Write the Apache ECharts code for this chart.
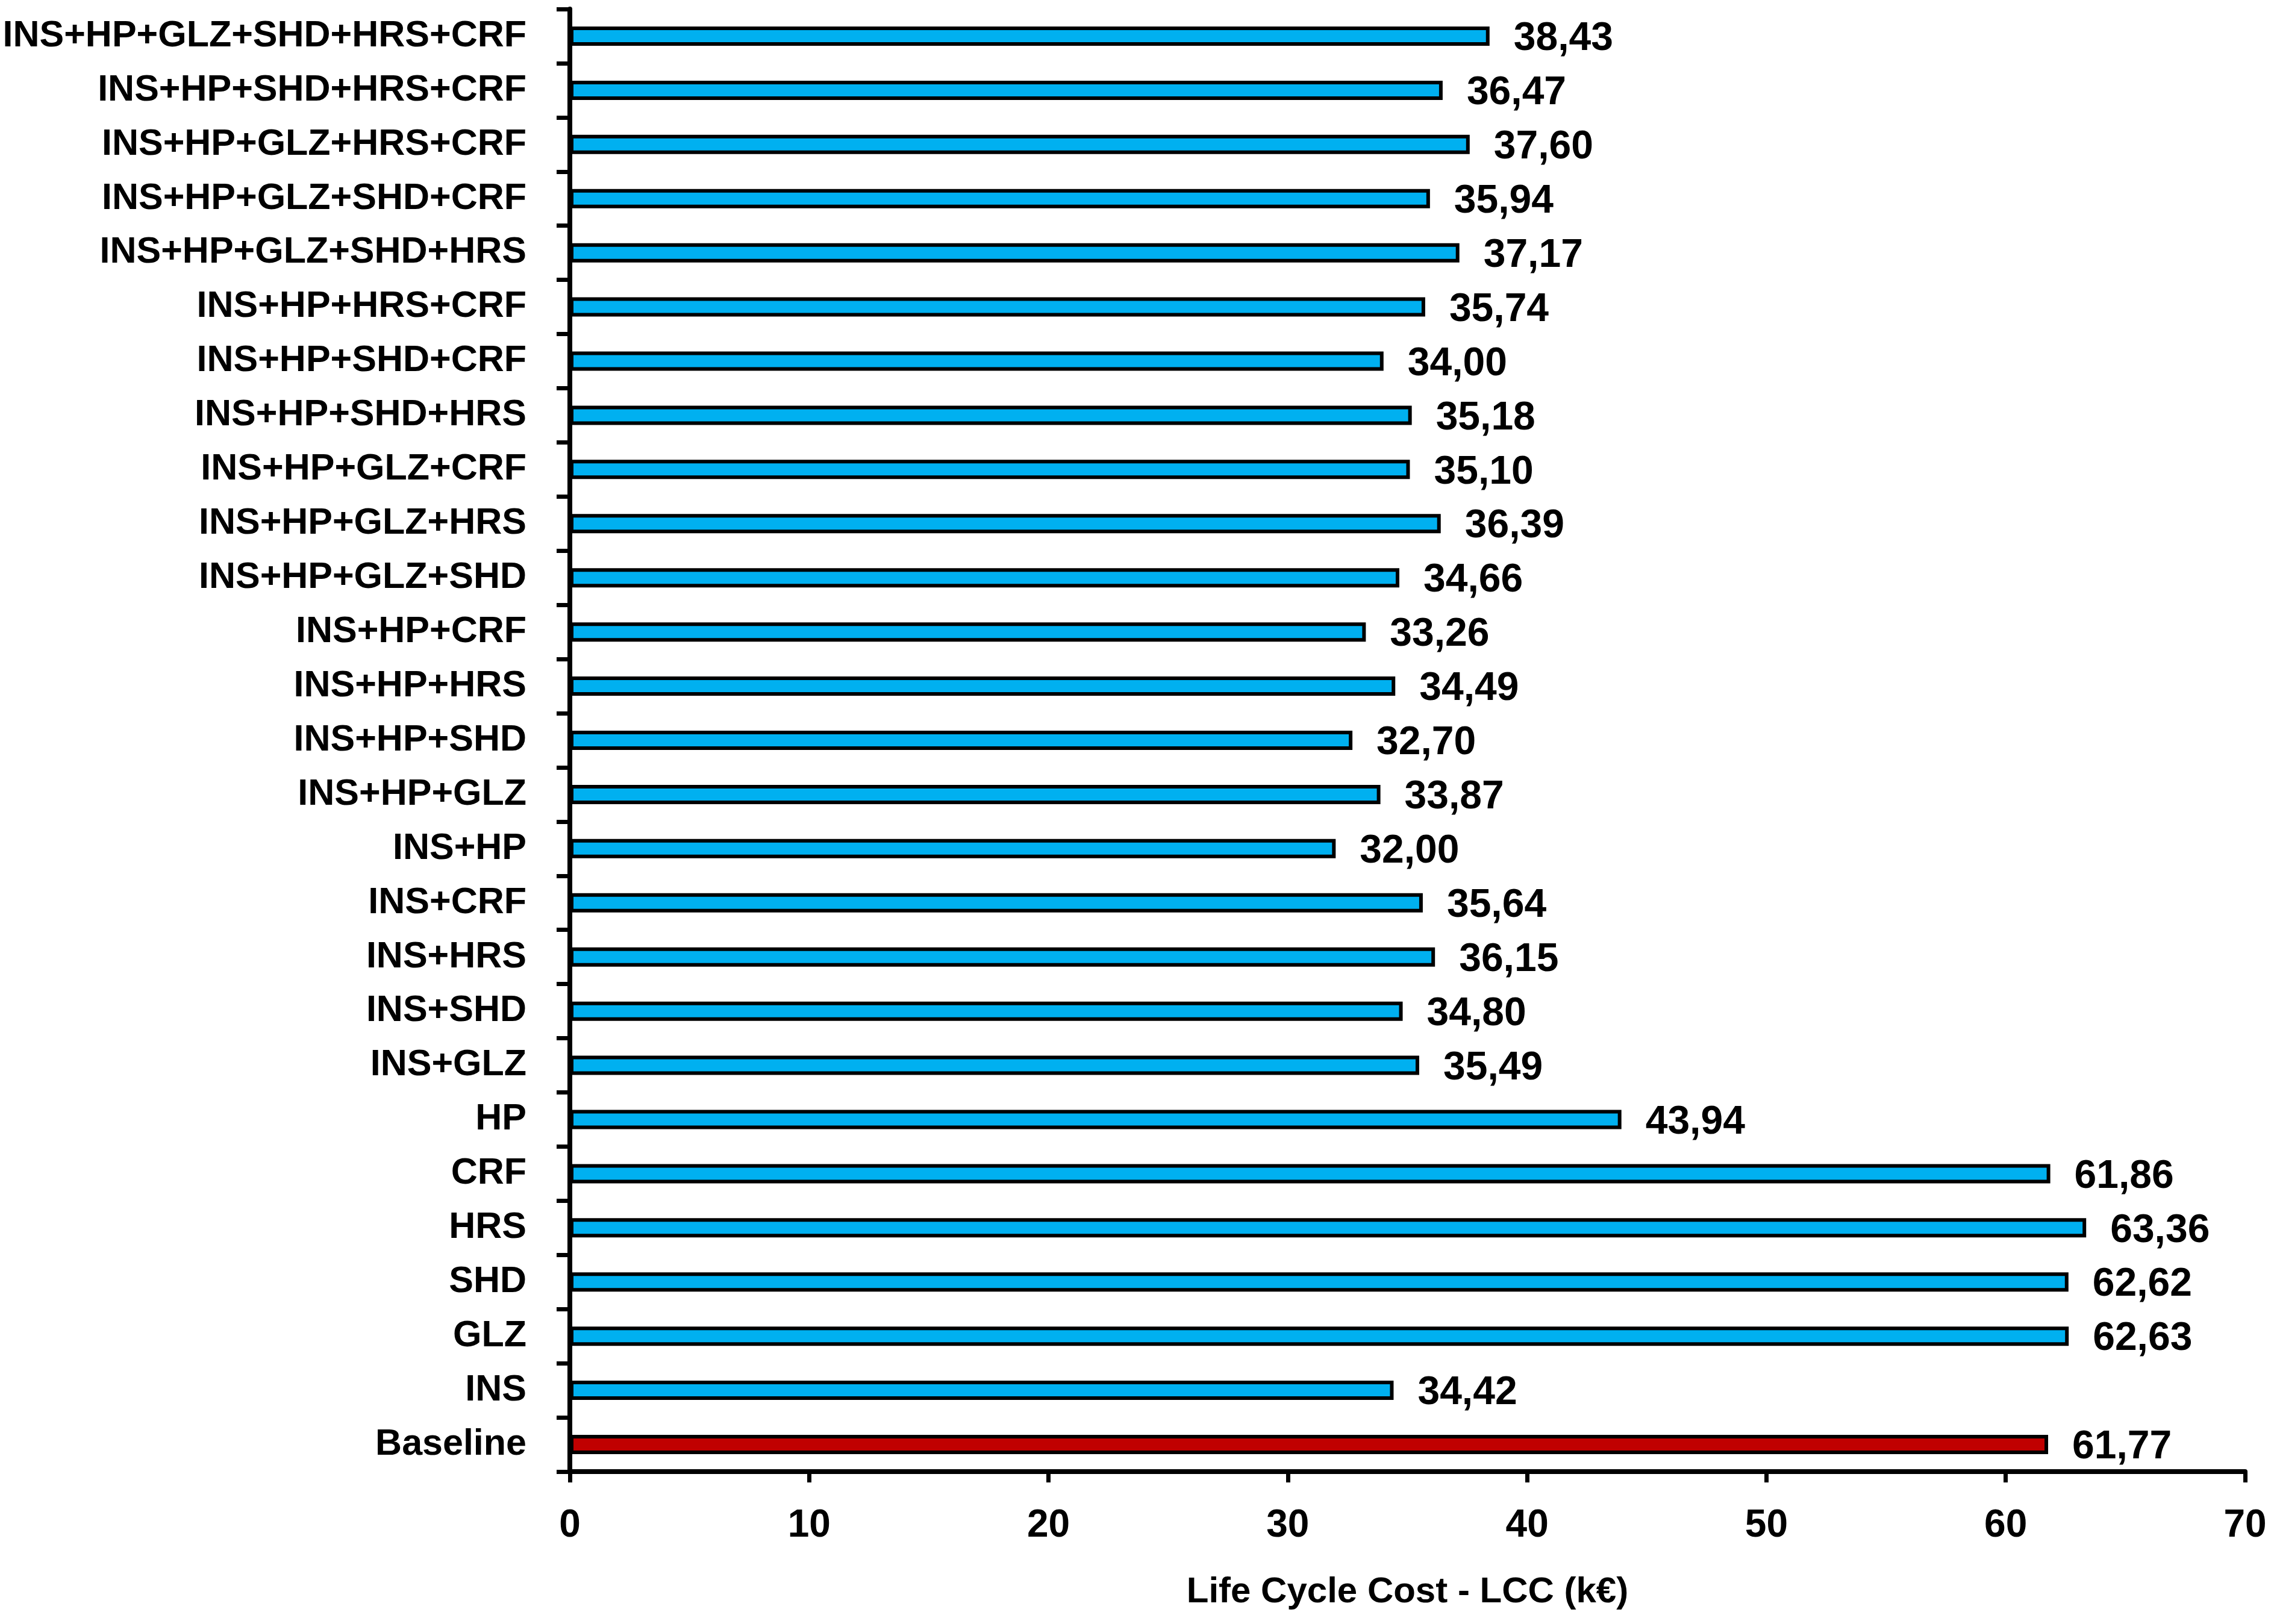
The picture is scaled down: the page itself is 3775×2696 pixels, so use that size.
<!DOCTYPE html>
<html>
<head>
<meta charset="utf-8">
<script src="https://cdn.jsdelivr.net/npm/echarts@6/dist/echarts.min.js"></script>
<style>
html,body{margin:0;padding:0;background:#fff;}
#chart{width:3775px;height:2696px;}
</style>
</head>
<body>
<div id="chart"></div>
<script>
// Categories listed top to bottom as in the reference
const categories = [
  "INS+HP+GLZ+SHD+HRS+CRF",
  "INS+HP+SHD+HRS+CRF",
  "INS+HP+GLZ+HRS+CRF",
  "INS+HP+GLZ+SHD+CRF",
  "INS+HP+GLZ+SHD+HRS",
  "INS+HP+HRS+CRF",
  "INS+HP+SHD+CRF",
  "INS+HP+SHD+HRS",
  "INS+HP+GLZ+CRF",
  "INS+HP+GLZ+HRS",
  "INS+HP+GLZ+SHD",
  "INS+HP+CRF",
  "INS+HP+HRS",
  "INS+HP+SHD",
  "INS+HP+GLZ",
  "INS+HP",
  "INS+CRF",
  "INS+HRS",
  "INS+SHD",
  "INS+GLZ",
  "HP",
  "CRF",
  "HRS",
  "SHD",
  "GLZ",
  "INS",
  "Baseline"
];
const lccValues = [
  38.43, 36.47, 37.60, 35.94, 37.17, 35.74, 34.00, 35.18, 35.10, 36.39,
  34.66, 33.26, 34.49, 32.70, 33.87, 32.00, 35.64, 36.15, 34.80, 35.49,
  43.94, 61.86, 63.36, 62.62, 62.63, 34.42, 61.77
];
const baselineName = "Baseline";
const xTicks = [0, 10, 20, 30, 40, 50, 60, 70];
const xAxisTitle = "Life Cycle Cost - LCC (k€)";

const blue = "#00B0F0";
const red = "#C00000";
const font = "'Liberation Sans', Arial, sans-serif";

const chart = echarts.init(document.getElementById('chart'), null, {renderer: 'canvas'});
chart.setOption({
  animation: false,
  backgroundColor: '#ffffff',
  grid: {left: 946, right: 48, top: 15, bottom: 2696 - 2443, containLabel: false},
  xAxis: {
    type: 'value',
    min: xTicks[0],
    max: xTicks[xTicks.length - 1],
    interval: 10,
    splitLine: {show: false},
    axisLine: {show: true, lineStyle: {color: '#000', width: 8}},
    axisTick: {show: true, length: 18, lineStyle: {color: '#000', width: 7}},
    axisLabel: {color: '#000', fontSize: 64, fontFamily: font, fontWeight: 'bold', margin: 58},
    name: xAxisTitle,
    nameLocation: 'middle',
    nameGap: 170,
    nameTextStyle: {color: '#000', fontSize: 60, fontFamily: font, fontWeight: 'bold'}
  },
  yAxis: {
    type: 'category',
    data: categories,
    inverse: true,
    axisLine: {show: true, lineStyle: {color: '#000', width: 8}},
    axisTick: {show: true, length: 22, lineStyle: {color: '#000', width: 7}},
    axisLabel: {color: '#000', fontSize: 61, fontFamily: font, fontWeight: 'bold', margin: 72}
  },
  series: [{
    type: 'bar',
    data: lccValues.map((v, i) => ({
      value: v,
      itemStyle: {color: categories[i] === baselineName ? red : blue}
    })),
    barWidth: 32,
    itemStyle: {borderColor: '#000', borderWidth: 6},
    label: {
      show: true,
      position: 'right',
      distance: 40,
      offset: [0, 5],
      color: '#000',
      fontSize: 66,
      fontFamily: font,
      fontWeight: 'bold',
      formatter: p => p.value.toFixed(2).replace('.', ',')
    }
  }]
});
</script>
</body>
</html>
